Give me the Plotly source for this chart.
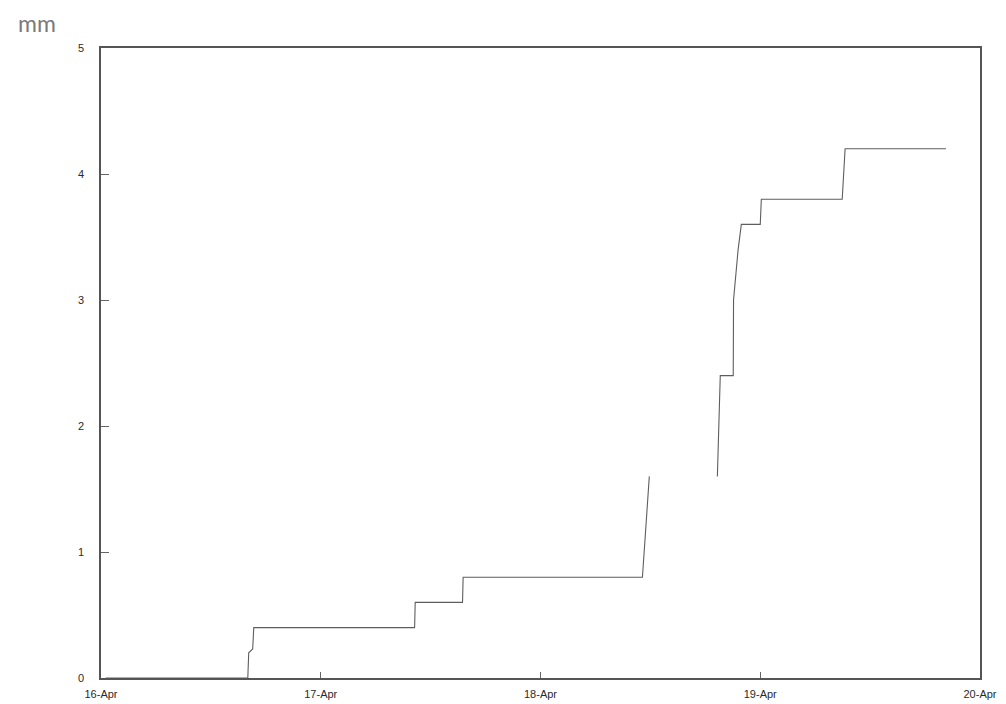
import plotly.graph_objects as go

# Cumulative rainfall gauge record (mm); None marks a gap in logging
times = [
    "2000-04-16 00:30", "2000-04-16 16:02", "2000-04-16 16:08", "2000-04-16 16:34",
    "2000-04-16 16:41", "2000-04-17 10:15", "2000-04-17 10:19", "2000-04-17 15:29",
    "2000-04-17 15:33", "2000-04-18 11:08", "2000-04-18 11:53", "2000-04-18 12:00",
    "2000-04-18 19:19", "2000-04-18 19:38", "2000-04-18 21:03", "2000-04-18 21:05",
    "2000-04-18 21:35", "2000-04-18 21:56", "2000-04-19 00:00", "2000-04-19 00:07",
    "2000-04-19 08:57", "2000-04-19 09:16", "2000-04-19 20:17",
]
rain_mm = [
    0.0, 0.0, 0.2, 0.23,
    0.4, 0.4, 0.6, 0.6,
    0.8, 0.8, 1.6, None,
    1.6, 2.4, 2.4, 3.0,
    3.4, 3.6, 3.6, 3.8,
    3.8, 4.2, 4.2,
]

x_ticks = ["2000-04-16", "2000-04-17", "2000-04-18", "2000-04-19", "2000-04-20"]
y_ticks = [0, 1, 2, 3, 4, 5]

fig = go.Figure(
    go.Scatter(
        x=times, y=rain_mm, mode="lines",
        line=dict(color="#5e5e5e", width=1.1),
        connectgaps=False, showlegend=False, hoverinfo="skip",
    )
)

tick_font = dict(family="Liberation Sans, Arial, sans-serif", size=11, color="#2a2a2a")

fig.update_xaxes(
    range=["2000-04-16", "2000-04-20"],
    tickvals=x_ticks, tickformat="%d-%b",
    ticks="inside", ticklen=6, tickcolor="#666", tickwidth=1,
    showgrid=False, zeroline=False,
    showline=True, linecolor="#555", linewidth=1.5, mirror=True,
    tickfont=tick_font, ticklabelstandoff=5, automargin=False,
)
fig.update_yaxes(
    range=[0, 5],
    tickvals=y_ticks,
    ticks="inside", ticklen=8, tickcolor="#666", tickwidth=1,
    showgrid=False, zeroline=False,
    showline=True, linecolor="#555", linewidth=1.5, mirror=True,
    tickfont=tick_font, ticklabelstandoff=13, automargin=False,
)

fig.add_annotation(
    text="mm", xref="paper", yref="paper", x=-0.073, y=1.04,
    xanchor="center", yanchor="middle", showarrow=False,
    font=dict(family="Lato, Open Sans, sans-serif", size=23, color="#7a7a7a"),
)

fig.update_layout(
    width=1006, height=704,
    margin=dict(l=101, r=26, t=48, b=26),
    paper_bgcolor="white", plot_bgcolor="white",
)

fig.write_html("out.html")
